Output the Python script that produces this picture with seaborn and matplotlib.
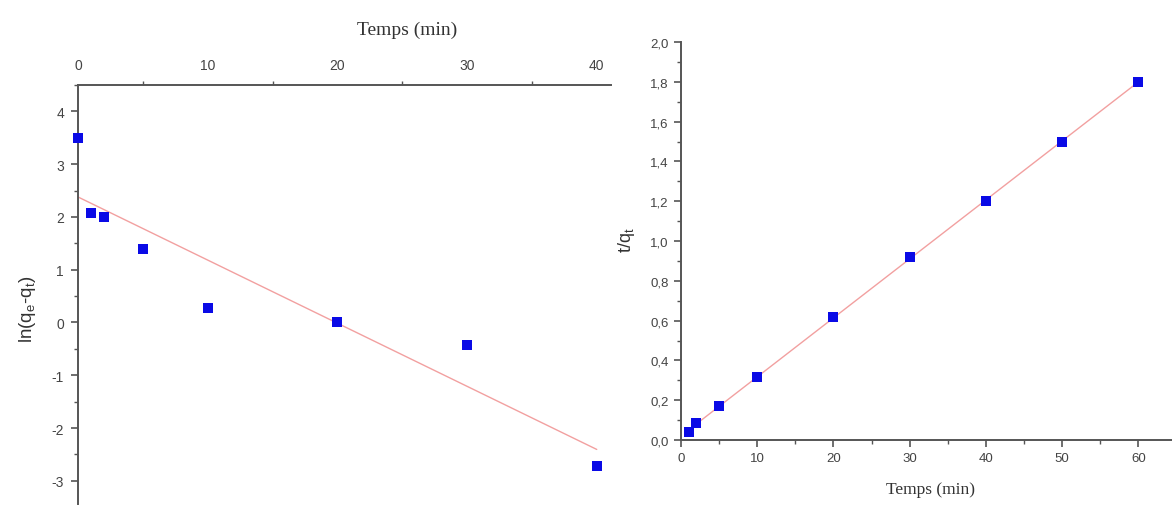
import numpy as np
import pandas as pd
import matplotlib
matplotlib.use("Agg")
import matplotlib.pyplot as plt
from matplotlib.ticker import MultipleLocator, FuncFormatter
import seaborn as sns

# Pseudo-first-order kinetics: ln(qe - qt) vs time
t_pfo = [0, 1, 2, 5, 10, 20, 30, 40]
ln_qe_qt = [3.5, 2.08, 1.99, 1.40, 0.28, 0.0, -0.42, -2.72]

# Pseudo-second-order kinetics: t/qt vs time
t_pso = [1, 2, 5, 10, 20, 30, 40, 50, 60]
t_over_qt = [0.04, 0.085, 0.17, 0.315, 0.62, 0.92, 1.20, 1.50, 1.80]

left_yticks = [-3, -2, -1, 0, 1, 2, 3, 4]
left_xticks = [0, 10, 20, 30, 40]
right_yticks = [0.0, 0.2, 0.4, 0.6, 0.8, 1.0, 1.2, 1.4, 1.6, 1.8, 2.0]
right_xticks = [0, 10, 20, 30, 40, 50, 60]

sns.set_theme(style="ticks")
plt.rcParams["font.family"] = ["Liberation Sans", "DejaVu Sans"]
plt.rcParams["axes.unicode_minus"] = False
plt.rcParams["mathtext.fontset"] = "custom"
plt.rcParams["mathtext.rm"] = "Liberation Sans"
plt.rcParams["mathtext.it"] = "Liberation Sans"

W, H = 1172, 506
fig = plt.figure(figsize=(W / 100, H / 100), dpi=100)

MARK = "#0a0ae6"
LINE = "#f2a0a0"
SPINE = "#555555"
TXT = "#444444"

df1 = pd.DataFrame({"t": t_pfo, "y": ln_qe_qt})
df2 = pd.DataFrame({"t": t_pso, "y": t_over_qt})

# ---------- left panel ----------
ax1 = fig.add_axes([78 / W, 1 - 505 / H, (611 - 78) / W, (505 - 86) / H])
sns.regplot(data=df1, x="t", y="y", ax=ax1, scatter=False, ci=None,
            line_kws=dict(color=LINE, lw=1.0))
sns.scatterplot(data=df1, x="t", y="y", ax=ax1, marker="s", s=55,
                color=MARK, edgecolor=MARK, linewidth=0, zorder=5, clip_on=False)
ax1.set_xlim(0, 41.1)
ax1.set_ylim(-3.44, 4.5)
ax1.xaxis.tick_top()
ax1.xaxis.set_label_position("top")
ax1.set_xticks(left_xticks)
ax1.set_yticks(left_yticks)
ax1.xaxis.set_minor_locator(MultipleLocator(5))
ax1.yaxis.set_minor_locator(MultipleLocator(0.5))
for s in ["right", "bottom"]:
    ax1.spines[s].set_visible(False)
for s in ["left", "top"]:
    ax1.spines[s].set_color(SPINE)
    ax1.spines[s].set_linewidth(1.4)
ax1.tick_params(axis="y", which="major", length=5, width=1.2, color=SPINE,
                labelsize=10, labelcolor=TXT, pad=5)
ax1.tick_params(axis="y", which="minor", length=3, width=1.0, color=SPINE)
ax1.tick_params(axis="x", which="major", top=True, bottom=False, length=0,
                labelsize=10, labelcolor=TXT, pad=9.5)
ax1.tick_params(axis="x", which="minor", top=True, bottom=False, length=3,
                width=1.0, color=SPINE)
ax1.set_xlabel("Temps (min)", family="Liberation Serif", fontsize=14, color="#333333")
ax1.xaxis.set_label_coords((407 - 78) / (611 - 78), (505 - 35) / (505 - 86))
ax1.set_ylabel(r"ln(q$_\mathregular{e}$-q$_\mathregular{t}$)", fontsize=13.5, color="#333333")
ax1.yaxis.set_label_coords((38 - 78) / (611 - 78), (505 - 309) / (505 - 86))

# ---------- right panel ----------
ax2 = fig.add_axes([681 / W, 1 - 441 / H, (W - 681) / W, (441 - 43) / H])
sns.regplot(data=df2, x="t", y="y", ax=ax2, scatter=False, ci=None,
            line_kws=dict(color=LINE, lw=1.0))
sns.scatterplot(data=df2, x="t", y="y", ax=ax2, marker="s", s=55,
                color=MARK, edgecolor=MARK, linewidth=0, zorder=5, clip_on=False)
ax2.set_xlim(0, 64.4)
ax2.set_ylim(0, 2.0)
ax2.set_xticks(right_xticks)
ax2.set_yticks(right_yticks)
ax2.xaxis.set_minor_locator(MultipleLocator(5))
ax2.yaxis.set_minor_locator(MultipleLocator(0.1))
ax2.yaxis.set_major_formatter(FuncFormatter(lambda v, p: f"{v:.1f}".replace(".", ",")))
for s in ["right", "top"]:
    ax2.spines[s].set_visible(False)
for s in ["left", "bottom"]:
    ax2.spines[s].set_color(SPINE)
    ax2.spines[s].set_linewidth(1.4)
ax2.tick_params(axis="both", which="major", length=5, width=1.2, color=SPINE,
                labelsize=9.5, labelcolor=TXT, pad=4)
ax2.tick_params(axis="both", which="minor", length=3, width=1.0, color=SPINE)
ax2.set_xlabel("Temps (min)", family="Liberation Serif", fontsize=12.5, color="#333333")
ax2.xaxis.set_label_coords((930 - 681) / (W - 681), (441 - 482) / (441 - 43))
ax2.set_ylabel(r"t/q$_\mathregular{t}$", fontsize=13, color="#333333")
ax2.yaxis.set_label_coords((637 - 681) / (W - 681), (441 - 240) / (441 - 43))

fig.savefig("out.png", dpi=100)
